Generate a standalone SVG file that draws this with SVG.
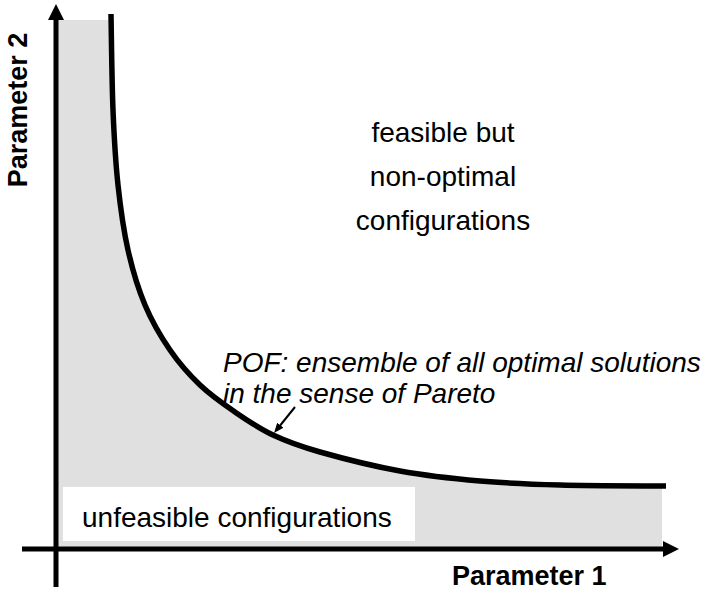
<svg xmlns="http://www.w3.org/2000/svg" width="712" height="593" viewBox="0 0 712 593">
  <style>
    .txt { font-family: "Liberation Sans", Arial, sans-serif; font-size: 28px; fill: #000; }
    .ital { font-style: italic; }
    .bold { font-weight: bold; font-size: 27px; }
    .axis { stroke: #000; stroke-width: 5; fill: none; }
    .curve { stroke: #000; stroke-width: 5.5; fill: none; stroke-linecap: butt; }
    .region { fill: #e0e0e0; stroke: none; }
  </style>
  <defs>
    <marker id="axisHead" viewBox="0 0 16 16" markerWidth="16" markerHeight="16" refX="1" refY="8" orient="auto" markerUnits="userSpaceOnUse">
      <path d="M0,0 L16,8 L0,16 Z" fill="#000"/>
    </marker>
    <marker id="smallHead" viewBox="0 0 10 8" markerWidth="10" markerHeight="8" refX="1" refY="4" orient="auto" markerUnits="userSpaceOnUse">
      <path d="M0,0 L10,4 L0,8 Z" fill="#000"/>
    </marker>
  </defs>

  <rect width="712" height="593" fill="#fff"/>

  <g id="unfeasible-region">
    <path class="region" d="M56,547 L56,20 L111,20 L111,14 C111.33,30 111.83,81.5 113,110 C114.17,138.5 115.5,161.67 118,185 C120.5,208.33 123.5,230 128,250 C132.5,270 138,288.33 145,305 C152,321.67 160.83,336.67 170,350 C179.17,363.33 189.17,374.67 200,385 C210.83,395.33 222.83,403.67 235,412 C247.17,420.33 258.83,428.33 273,435 C287.17,441.67 298.83,446 320,452 C341.17,458 373.33,466.17 400,471 C426.67,475.83 453.33,478.67 480,481 C506.67,483.33 529,484.17 560,485 C591,485.83 648.33,485.83 662,486 L662,547 Z"/>
    <rect x="63" y="487" width="352" height="54" fill="#fff"/>
    <text class="txt" x="82" y="527">unfeasible configurations</text>
  </g>

  <g id="feasible-region">
    <text class="txt" x="443" y="142" text-anchor="middle">feasible but</text>
    <text class="txt" x="443" y="186" text-anchor="middle">non-optimal</text>
    <text class="txt" x="443" y="230" text-anchor="middle">configurations</text>
  </g>

  <g id="pareto-front">
    <path class="curve" d="M111,14 C111.33,30 111.83,81.5 113,110 C114.17,138.5 115.5,161.67 118,185 C120.5,208.33 123.5,230 128,250 C132.5,270 138,288.33 145,305 C152,321.67 160.83,336.67 170,350 C179.17,363.33 189.17,374.67 200,385 C210.83,395.33 222.83,403.67 235,412 C247.17,420.33 258.83,428.33 273,435 C287.17,441.67 298.83,446 320,452 C341.17,458 373.33,466.17 400,471 C426.67,475.83 453.33,478.67 480,481 C506.67,483.33 529,484.17 560,485 C591,485.83 648.33,485.83 666,486"/>
  </g>

  <g id="pof-label">
    <text class="txt ital" x="223" y="372">POF: ensemble of all optimal solutions</text>
    <text class="txt ital" x="223" y="403">in the sense of Pareto</text>
  </g>

  <g id="axes">
    <line class="axis" x1="56" y1="587" x2="56" y2="19" marker-end="url(#axisHead)"/>
    <line class="axis" x1="22" y1="549" x2="664" y2="549" marker-end="url(#axisHead)"/>
    <text class="txt bold" x="452" y="585">Parameter 1</text>
    <text class="txt bold" transform="translate(27,110) rotate(-90)" text-anchor="middle">Parameter 2</text>
  </g>

  <g id="connectors">
    <line x1="295" y1="407" x2="279.7" y2="426" stroke="#000" stroke-width="2" marker-end="url(#smallHead)"/>
  </g>
</svg>
